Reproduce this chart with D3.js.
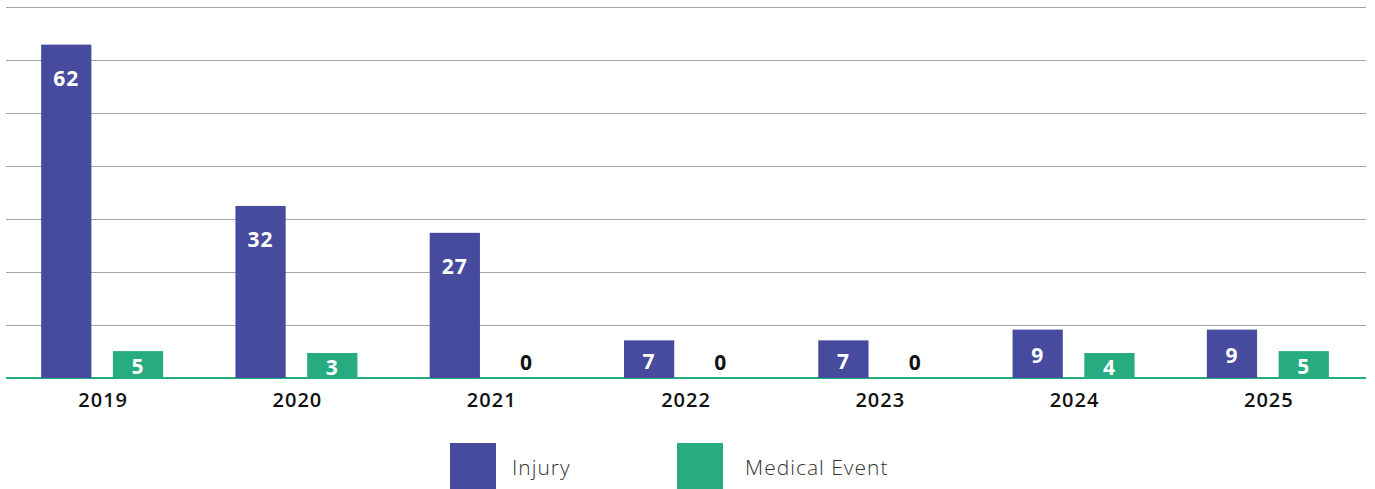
<!DOCTYPE html>
<html>
<head>
<meta charset="utf-8">
<script src="https://cdn.jsdelivr.net/npm/d3@7"></script>
<style>
  html, body { margin: 0; padding: 0; background: #fff; }
  svg { display: block; }
</style>
</head>
<body>
<svg id="chart" width="1375" height="489"></svg>
<script>
// ---- data ----
const years = ["2019", "2020", "2021", "2022", "2023", "2024", "2025"];
const seriesNames = ["Injury", "Medical Event"];
const injury = [62, 32, 27, 7, 7, 9, 9];
const medical = [5, 3, 0, 0, 0, 4, 5];
const seriesColors = ["#464b9e", "#26ac80"];
const yMax = 69;
const gridCount = 7;

(function () {
// ---- layout ----
const plotLeft = 6, plotRight = 1366, plotTop = 7, base = 378;
const svg = d3.select("#chart");

const x0 = d3.scaleBand().domain(years).range([plotLeft, plotRight]).padding(0);
const bw = x0.bandwidth();
const x1 = d3.scaleBand().domain(seriesNames)
  .range([bw / 2 - 62, bw / 2 + 60]).paddingInner(0.3).paddingOuter(0);
const y = d3.scaleLinear().domain([0, yMax]).range([base, plotTop]);
const color = d3.scaleOrdinal().domain(seriesNames).range(seriesColors);

// gridlines
const gridVals = d3.range(1, gridCount + 1).map(i => i * yMax / gridCount);
svg.append("g").selectAll("line").data(gridVals).join("line")
  .attr("x1", plotLeft).attr("x2", plotRight)
  .attr("y1", d => Math.round(y(d)) + 0.5).attr("y2", d => Math.round(y(d)) + 0.5)
  .attr("stroke", "#a3a3a3").attr("stroke-width", 1);

// baseline
svg.append("line")
  .attr("x1", plotLeft).attr("x2", plotRight)
  .attr("y1", base).attr("y2", base)
  .attr("stroke", "#26ac80").attr("stroke-width", 2);

const rows = years.map((yr, i) => ({ year: yr, values: [
  { key: seriesNames[0], v: injury[i] },
  { key: seriesNames[1], v: medical[i] }
]}));

const minH = 25;
function barH(v) { return v > 0 ? Math.max(base - y(v), minH) : 0; }

const groups = svg.append("g").selectAll("g").data(rows).join("g")
  .attr("transform", d => `translate(${x0(d.year)},0)`);

groups.selectAll("rect").data(d => d.values.filter(e => e.v > 0)).join("rect")
  .attr("x", d => x1(d.key))
  .attr("width", x1.bandwidth())
  .attr("y", d => base - barH(d.v))
  .attr("height", d => barH(d.v))
  .attr("fill", d => color(d.key));

groups.selectAll("text.val").data(d => d.values).join("text")
  .attr("class", "val")
  .attr("x", d => x1(d.key) + x1.bandwidth() / 2)
  .attr("y", d => {
    if (d.v === 0) return base - 16;
    const h = barH(d.v);
    return base - h + Math.min(h / 2 + 1.5, 33.5);
  })
  .attr("text-anchor", "middle")
  .attr("dominant-baseline", "central")
  .attr("font-family", "'Open Sans', sans-serif")
  .attr("font-weight", 700)
  .attr("font-size", 21)
  .attr("letter-spacing", 1)
  .attr("fill", d => d.v === 0 ? "#111" : "#fff")
  .text(d => d.v);

// x axis labels
svg.append("g").selectAll("text").data(years).join("text")
  .attr("x", d => x0(d) + bw / 2)
  .attr("y", 399)
  .attr("text-anchor", "middle")
  .attr("dominant-baseline", "central")
  .attr("font-family", "'Open Sans', sans-serif")
  .attr("font-weight", 600)
  .attr("font-size", 20)
  .attr("letter-spacing", 1)
  .attr("fill", "#111")
  .text(d => d);

// legend
const legendX = [450, 677];
const textOffset = [62, 68];
const leg = svg.append("g").selectAll("g").data(seriesNames).join("g")
  .attr("transform", (d, i) => `translate(${legendX[i]},443)`);
leg.append("rect").attr("width", 46).attr("height", 46).attr("fill", d => color(d));
leg.append("text")
  .attr("x", (d, i) => textOffset[i]).attr("y", 24)
  .attr("dominant-baseline", "central")
  .attr("font-family", "'Open Sans', sans-serif")
  .attr("font-weight", 300)
  .attr("font-size", 21)
  .attr("letter-spacing", 1)
  .attr("fill", "#333")
  .text(d => d);
})();
</script>
</body>
</html>
